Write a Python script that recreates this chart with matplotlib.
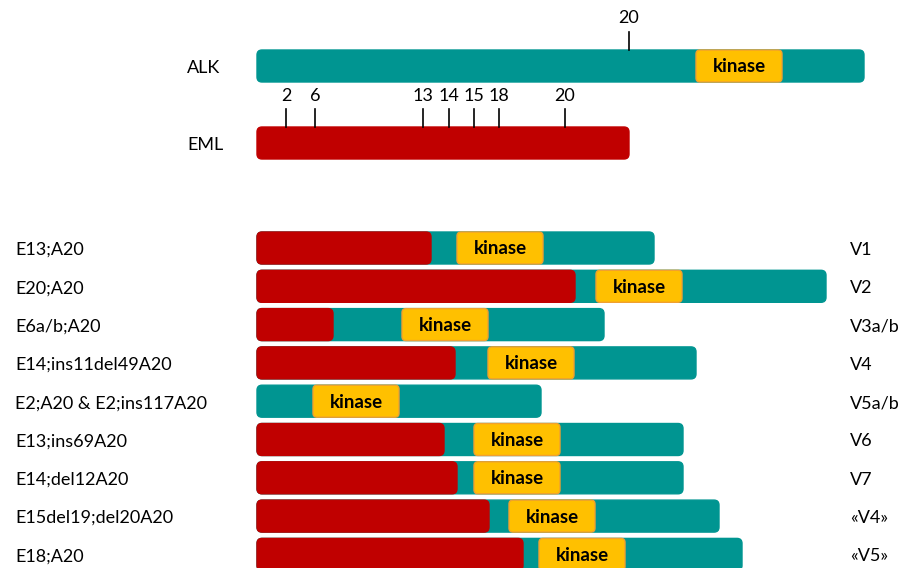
import matplotlib
matplotlib.use("Agg")
import matplotlib.pyplot as plt
from matplotlib.patches import FancyBboxPatch

plt.rcParams['font.family'] = ['Lato', 'DejaVu Sans']

# ---- data (horizontal positions on the diagram scale) ----
bar_start = 257
kinase_width = 86

alk_end = 864
alk_kinase_start = 696
alk_exon_labels = ["20"]
alk_exon_pos = [629]

eml_end = 629
eml_exon_labels = ["2", "6", "13", "14", "15", "18", "20"]
eml_exon_pos = [286, 315, 423, 449, 474, 499, 565]

variant_labels = ["E13;A20", "E20;A20", "E6a/b;A20", "E14;ins11del49A20",
                  "E2;A20 & E2;ins117A20", "E13;ins69A20", "E14;del12A20",
                  "E15del19;del20A20", "E18;A20"]
variant_names = ["V1", "V2", "V3a/b", "V4", "V5a/b", "V6", "V7", "«V4»", "«V5»"]
eml_part_end = [431, 575, 333, 455, None, 444, 457, 489, 523]
kinase_start = [457, 596, 402, 488, 313, 474, 474, 509, 539]
fusion_end = [654, 826, 604, 696, 541, 683, 683, 719, 742]

TEAL = "#009591"
RED = "#C00000"
GOLD = "#FFC000"
GOLD_EDGE = "#F0A030"

fig = plt.figure(figsize=(9.05, 5.68), dpi=100)
ax = fig.add_axes([0, 0, 1, 1])
ax.set_xlim(0, 905)
ax.set_ylim(568, 0)
ax.axis("off")

H = 32
FS = 13


def rbox(x0, x1, yc, color, edge=None, z=1, r=5):
    p = FancyBboxPatch((x0, yc - H / 2), x1 - x0, H,
                       boxstyle=f"round,pad=0,rounding_size={r}",
                       facecolor=color, edgecolor=edge if edge else color,
                       linewidth=1.0, zorder=z)
    ax.add_patch(p)


def kinase(x0, yc):
    rbox(x0, x0 + kinase_width, yc, GOLD, GOLD_EDGE, z=3, r=4)
    ax.text(x0 + kinase_width / 2, yc + 1, "kinase", ha="center", va="center",
            fontsize=13.5, fontweight="bold", color="black", zorder=4)


# ALK
alk_y = 66
rbox(bar_start, alk_end, alk_y, TEAL)
kinase(alk_kinase_start, alk_y)
ax.text(187, alk_y + 2, "ALK", ha="left", va="center", fontsize=FS)
for lab, xp in zip(alk_exon_labels, alk_exon_pos):
    ax.plot([xp, xp], [32, alk_y - H / 2], color="black", lw=1.2, zorder=5)
    ax.text(xp, 18, lab, ha="center", va="center", fontsize=FS)

# EML
eml_y = 143
rbox(bar_start, eml_end, eml_y, RED)
ax.text(187, eml_y + 2, "EML", ha="left", va="center", fontsize=FS)
for lab, xp in zip(eml_exon_labels, eml_exon_pos):
    ax.plot([xp, xp], [109, eml_y - H / 2], color="black", lw=1.2, zorder=5)
    ax.text(xp, 96, lab, ha="center", va="center", fontsize=FS)

# variants
row0 = 248
step = 38.3
for i, (lab, nm, re, ks, fe) in enumerate(zip(variant_labels, variant_names,
                                               eml_part_end, kinase_start, fusion_end)):
    yc = row0 + i * step
    rbox(bar_start, fe, yc, TEAL, z=1)
    if re is not None:
        rbox(bar_start, re, yc, RED, z=2)
    kinase(ks, yc)
    ax.text(15, yc + 2, lab, ha="left", va="center", fontsize=FS)
    ax.text(850, yc + 2, nm, ha="left", va="center", fontsize=FS)

fig.savefig("out.png", dpi=100)
